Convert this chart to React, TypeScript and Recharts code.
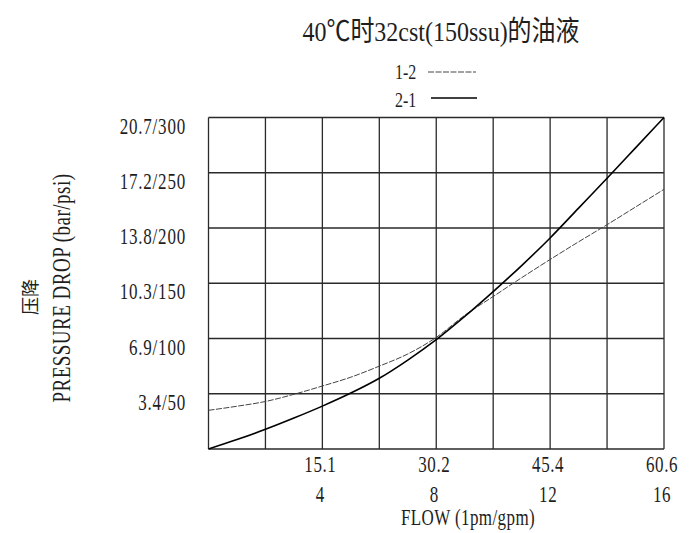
import React from "react";
import { LineChart, Line, XAxis, YAxis, CartesianGrid } from "recharts";

// flow in gpm
const gpm = [0, 1, 2, 3, 4, 5, 6, 7, 8, 9, 10, 11, 12, 13, 14, 15, 16];
// pressure drop in psi, path 2-1 (solid)
const drop21 = [0, 8.5, 17.8, 28, 38.8, 50.6, 64, 80.5, 99, 120, 142.5, 166, 191, 218, 245, 272.5, 300];
// pressure drop in psi, path 1-2 (dashed)
const drop12 = [35, 38.7, 43, 49.5, 57, 65, 75, 86, 101, 121, 138, 155, 171.5, 187.5, 203, 219, 235];

const xGridTicks = [0, 2, 4, 6, 8, 10, 12, 14, 16];
const xLabelGpm = [4, 8, 12, 16];
const xLabelLpm = ["15.1", "30.2", "45.4", "60.6"];
const yGridTicks = [0, 50, 100, 150, 200, 250, 300];
const yLabelPsi = [50, 100, 150, 200, 250, 300];
const yLabelBar = ["3.4", "6.9", "10.3", "13.8", "17.2", "20.7"];

const title = "40℃时32cst(150ssu)的油液";
const legend12 = "1-2";
const legend21 = "2-1";
const xTitle = "FLOW (1pm/gpm)";
const yTitleCn = "压降";
const yTitle = "PRESSURE DROP (bar/psi)";

const data = gpm.map((g, i) => ({ gpm: g, d21: drop21[i], d12: drop12[i] }));

const FONT = "'Liberation Serif', 'Noto Sans CJK SC', serif";
const INK = "#1e1e1e";

function ST(props: {
  x: number;
  y: number;
  size: number;
  sy?: number;
  anchor?: "start" | "middle" | "end";
  rotate?: number;
  ls?: number;
  children: React.ReactNode;
}) {
  const { x, y, size, sy = 1.3, anchor = "start", rotate = 0, ls = 0, children } = props;
  return (
    <text
      transform={`translate(${x},${y}) rotate(${rotate}) scale(1,${sy})`}
      x={0}
      y={0}
      fontSize={size}
      fontFamily={FONT}
      textAnchor={anchor}
      fill={INK}
      letterSpacing={ls}
    >
      {children}
    </text>
  );
}

const XTick = (p: any) => {
  const v = p.payload?.value;
  const i = xLabelGpm.indexOf(v);
  if (i < 0) return <g />;
  return (
    <g>
      <ST x={p.x - 2} y={p.y + 23} size={17} anchor="middle" ls={0.6}>
        {xLabelLpm[i]}
      </ST>
      <ST x={p.x - 2} y={p.y + 53} size={17} anchor="middle" ls={0.6}>
        {String(v)}
      </ST>
    </g>
  );
};

const YTick = (p: any) => {
  const v = p.payload?.value;
  const i = yLabelPsi.indexOf(v);
  if (i < 0) return <g />;
  return (
    <ST x={p.x - 22.5} y={p.y + 16} size={17} anchor="end" ls={0.8}>
      {`${yLabelBar[i]}/${v}`}
    </ST>
  );
};

export default function App() {
  return (
    <div style={{ width: 682, height: 525 }}>
      <LineChart
        width={682}
        height={525}
        data={data}
        margin={{ top: 109.5, right: 26, bottom: 24, left: 20.5 }}
      >
        <CartesianGrid stroke="#2a2a2a" strokeWidth={1.3} />
        <XAxis
          dataKey="gpm"
          type="number"
          domain={[0, 16]}
          ticks={xGridTicks}
          interval={0}
          height={60}
          axisLine={false}
          tickLine={false}
          tickSize={0}
          tickMargin={0}
          tick={XTick}
        />
        <YAxis
          type="number"
          domain={[0, 300]}
          ticks={yGridTicks}
          interval={0}
          width={180}
          axisLine={false}
          tickLine={false}
          tickSize={0}
          tickMargin={0}
          tick={YTick}
        />
        <Line
          type="monotone"
          dataKey="d12"
          stroke="#444"
          strokeWidth={1}
          strokeDasharray="6 1.5"
          dot={false}
          isAnimationActive={false}
        />
        <Line
          type="monotone"
          dataKey="d21"
          stroke="#000"
          strokeWidth={1.6}
          dot={false}
          isAnimationActive={false}
        />
        <ST x={433} y={33} size={24} sy={1.18} anchor="middle">
          {title}
        </ST>
        <ST x={387} y={71} size={16} sy={1.35}>
          {legend12}
        </ST>
        <line x1={420} y1={64} x2={468} y2={64} stroke="#444" strokeWidth={1} strokeDasharray="6 1.5" />
        <ST x={387} y={98.5} size={16} sy={1.35}>
          {legend21}
        </ST>
        <line x1={423} y1={90} x2={469} y2={90} stroke="#000" strokeWidth={1.3} />
        <ST x={460} y={517} size={17} sy={1.3} anchor="middle" ls={0.4}>
          {xTitle}
        </ST>
        <ST x={29} y={289} size={18} sy={1} anchor="middle" rotate={-90}>
          {yTitleCn}
        </ST>
        <ST x={62} y={280} size={19} sy={1.3} anchor="middle" rotate={-90} ls={0.5}>
          {yTitle}
        </ST>
      </LineChart>
    </div>
  );
}
